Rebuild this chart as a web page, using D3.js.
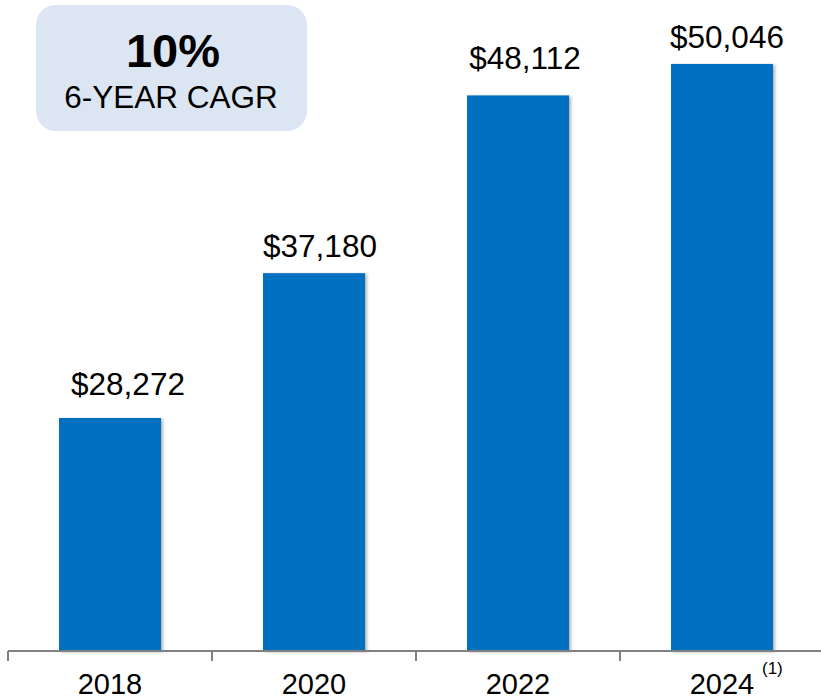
<!DOCTYPE html>
<html>
<head>
<meta charset="utf-8">
<script src="https://cdn.jsdelivr.net/npm/d3@7"></script>
<style>
  html, body { margin: 0; padding: 0; background: #fff; }
  svg { display: block; font-family: "Liberation Sans", Arial, sans-serif; }
</style>
</head>
<body>
<div id="chart"></div>
<script>
// chart data
const years = ["2018", "2020", "2022", "2024"];
const values = [28272, 37180, 48112, 50046];
const valueLabels = ["$28,272", "$37,180", "$48,112", "$50,046"];
const footnotes = ["", "", "", "(1)"];
const cagrText = ["10%", "6-YEAR CAGR"];

// label nudges (layout only), as placed in the original slide
const labelDx = [18, 6, 7, 5];
const labelDy = [23, 16, 26, 16];

const width = 821, height = 698;
const baseY = 651;

const svg = d3.select("#chart")
    .append("svg")
    .attr("width", width)
    .attr("height", height);

// soft shadow under the bars
const defs = svg.append("defs");
defs.append("filter")
    .attr("id", "shadow")
    .attr("x", "-10%").attr("y", "-10%")
    .attr("width", "130%").attr("height", "130%")
    .append("feDropShadow")
    .attr("dx", 2).attr("dy", 1)
    .attr("stdDeviation", 1.5)
    .attr("flood-color", "#000")
    .attr("flood-opacity", 0.3);

// scales (value axis does not start at zero)
const x = d3.scaleBand()
    .domain(years)
    .range([8, 8 + 204 * years.length])
    .padding(0);

const y = d3.scaleLinear()
    .domain([13940, 53980])
    .range([baseY, 0]);

const barW = 102;

// bars
svg.selectAll("rect.bar")
    .data(years)
    .enter()
    .append("rect")
    .attr("class", "bar")
    .attr("x", d => x(d) + (x.bandwidth() - barW) / 2)
    .attr("y", (d, i) => y(values[i]))
    .attr("width", barW)
    .attr("height", (d, i) => baseY - y(values[i]))
    .attr("fill", "#0070c0")
    .attr("filter", "url(#shadow)");

// value labels
svg.selectAll("text.val")
    .data(years)
    .enter()
    .append("text")
    .attr("class", "val")
    .attr("x", (d, i) => x(d) + x.bandwidth() / 2 + labelDx[i])
    .attr("y", (d, i) => y(values[i]) - labelDy[i])
    .attr("text-anchor", "middle")
    .attr("font-size", 31.5)
    .attr("fill", "#000")
    .text((d, i) => valueLabels[i]);

// category axis
const axis = svg.append("g").attr("transform", `translate(0,${baseY})`);
axis.append("line")
    .attr("x1", 8).attr("x2", width)
    .attr("y1", 0).attr("y2", 0)
    .attr("stroke", "#808080")
    .attr("stroke-width", 2);
axis.selectAll("line.tick")
    .data(years)
    .enter()
    .append("line")
    .attr("class", "tick")
    .attr("x1", d => x(d)).attr("x2", d => x(d))
    .attr("y1", 0).attr("y2", 10)
    .attr("stroke", "#808080")
    .attr("stroke-width", 2);
axis.selectAll("text.year")
    .data(years)
    .enter()
    .append("text")
    .attr("class", "year")
    .attr("x", d => x(d) + x.bandwidth() / 2)
    .attr("y", 43)
    .attr("text-anchor", "middle")
    .attr("font-size", 29)
    .attr("fill", "#000")
    .text(d => d);
axis.selectAll("text.note")
    .data(years)
    .enter()
    .append("text")
    .attr("class", "note")
    .attr("x", d => x(d) + x.bandwidth() / 2 + 40)
    .attr("y", 23)
    .attr("font-size", 17)
    .attr("fill", "#000")
    .text((d, i) => footnotes[i]);

// CAGR callout box
const box = svg.append("g");
box.append("rect")
    .attr("x", 36).attr("y", 5)
    .attr("width", 271).attr("height", 126)
    .attr("rx", 20).attr("ry", 20)
    .attr("fill", "#dce6f2");
box.append("text")
    .attr("x", 173).attr("y", 67)
    .attr("text-anchor", "middle")
    .attr("font-size", 47)
    .attr("font-weight", "bold")
    .text(cagrText[0]);
box.append("text")
    .attr("x", 171).attr("y", 108)
    .attr("text-anchor", "middle")
    .attr("font-size", 31.5)
    .text(cagrText[1]);
</script>
</body>
</html>
